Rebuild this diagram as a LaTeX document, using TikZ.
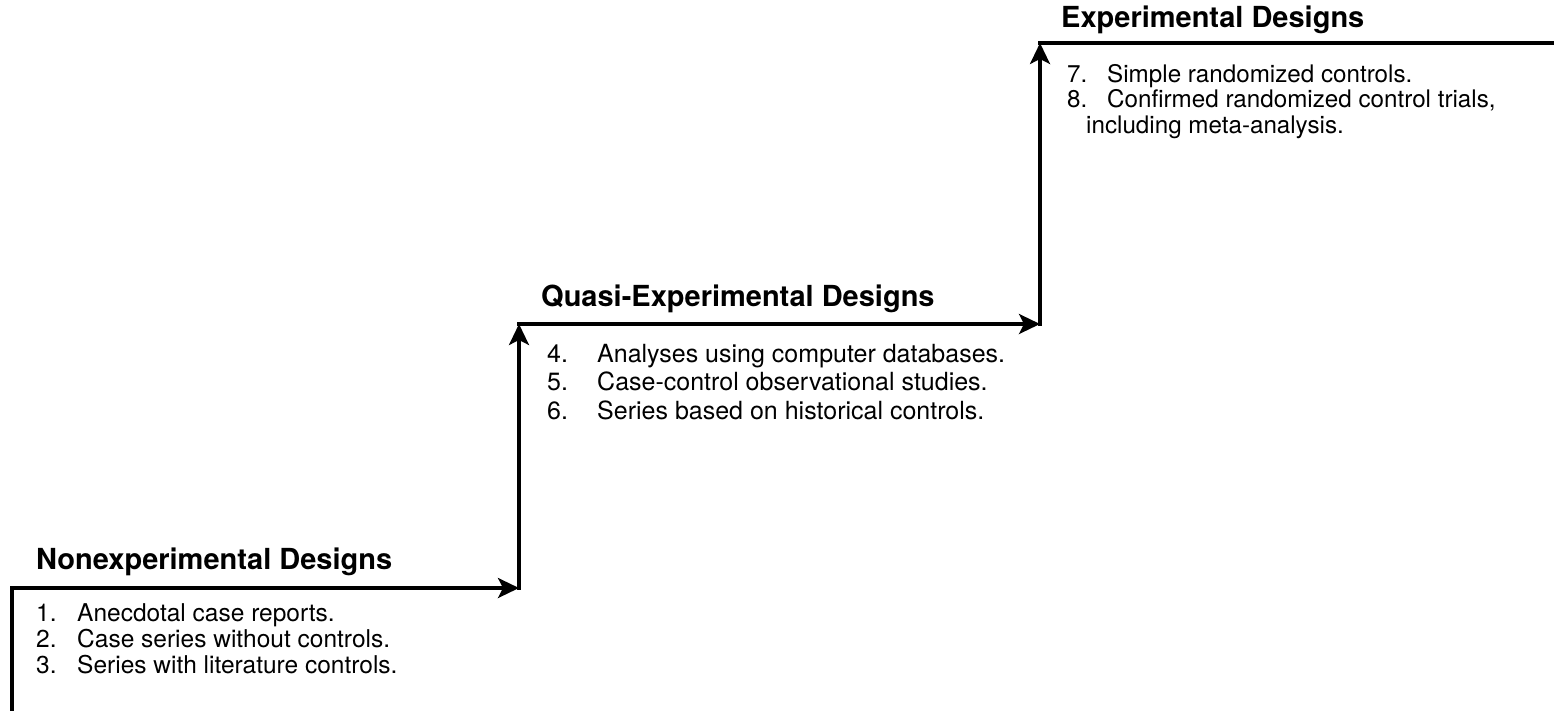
\documentclass[tikz,border=0pt]{standalone}
\usepackage{fontspec}
\setmainfont{TeX Gyre Heros}
\usetikzlibrary{arrows.meta}
\begin{document}
\begin{tikzpicture}[x=1pt,y=-1pt,
  stair/.style={line width=3.2pt, line cap=rect},
  uparrow/.style={stair, -{Stealth[length=21pt,width=20pt,inset=5pt]}},
  title/.style={anchor=base west, inner sep=0pt, font=\fontsize{29}{34}\selectfont\bfseries},
  items/.style={anchor=base west, inner sep=0pt}]
\useasboundingbox (0,0) rectangle (1554,710);
\coordinate (c0) at (12,712);
\coordinate (c1) at (12,588);
\coordinate (c2) at (519,588);
\coordinate (c3) at (519,324);
\coordinate (c4) at (1040,324);
\coordinate (c5) at (1040,43);
\coordinate (c6) at (1556,43);
\draw[stair] (c0) -- (c1);
\draw[uparrow] (c1) -- (c2);
\draw[uparrow] (c2) -- (c3);
\draw[uparrow] (c3) -- (c4);
\draw[uparrow] (c4) -- (c5);
\draw[stair] (c5) -- (c6);
\node[title] (t1) at (36,569) {Nonexperimental Designs};
\node[title] (t2) at (541,306) {Quasi-Experimental Designs};
\node[title] (t3) at (1061,27) {Experimental Designs};
\node[items] (g1) at (36,621) {\fontsize{24.5}{26}\selectfont\begin{tabular}[t]{@{}l@{}}
\makebox[41pt][l]{1.}Anecdotal case reports.\\
\makebox[41pt][l]{2.}Case series without controls.\\
\makebox[41pt][l]{3.}Series with literature controls.
\end{tabular}};
\node[items] (g2) at (547,362) {\fontsize{25}{28.5}\selectfont\begin{tabular}[t]{@{}l@{}}
\makebox[50pt][l]{4.}Analyses using computer databases.\\
\makebox[50pt][l]{5.}Case-control observational studies.\\
\makebox[50pt][l]{6.}Series based on historical controls.
\end{tabular}};
\node[items] (g3) at (1067,82) {\fontsize{24.2}{25.5}\selectfont\begin{tabular}[t]{@{}l@{}}
\makebox[40pt][l]{7.}Simple randomized controls.\\
\makebox[40pt][l]{8.}Confirmed randomized control trials,\\
\hspace{19pt}including meta-analysis.
\end{tabular}};
\end{tikzpicture}
\end{document}
